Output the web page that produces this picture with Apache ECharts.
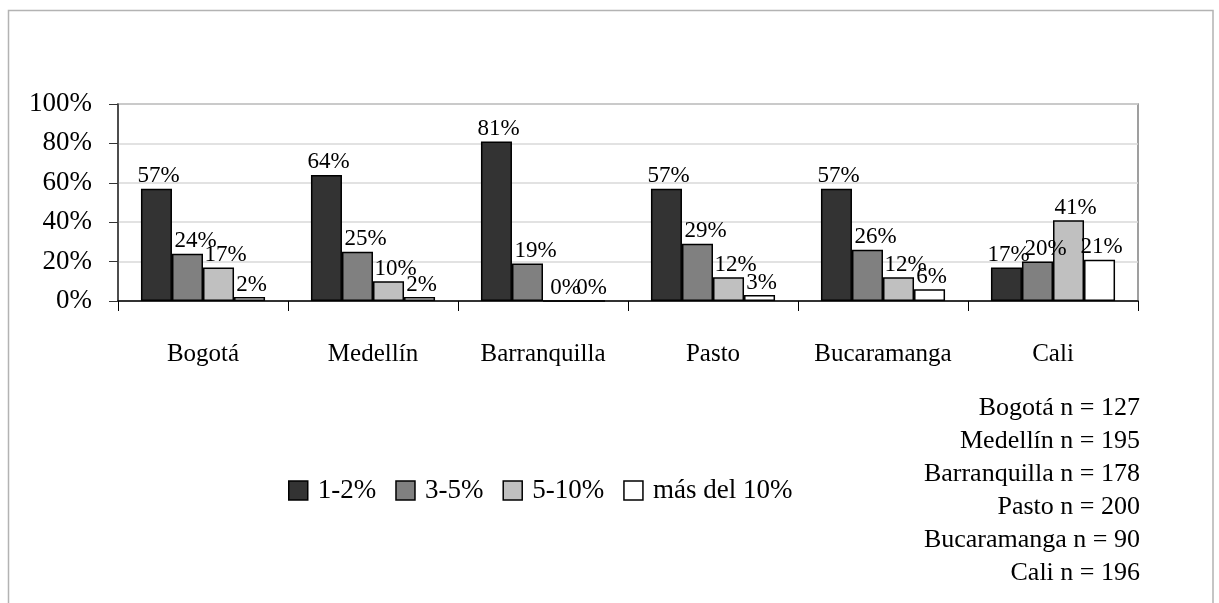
<!DOCTYPE html>
<html>
<head>
<meta charset="utf-8">
<script src="https://cdn.jsdelivr.net/npm/echarts@6/dist/echarts.min.js"></script>
<style>
  html, body { margin: 0; padding: 0; background: #ffffff; }
  #chart { width: 1219px; height: 603px; }
</style>
</head>
<body>
<div id="chart"></div>
<script>
// Cities surveyed
var cities = ['Bogotá', 'Medellín', 'Barranquilla', 'Pasto', 'Bucaramanga', 'Cali'];

// Share of respondents per range (%)
var range12 = [57, 64, 81, 57, 57, 17];
var range35 = [24, 25, 19, 29, 26, 20];
var range510 = [17, 10, 0, 12, 12, 41];
var rangeOver10 = [2, 2, 0, 3, 6, 21];

var seriesNames = ['1-2%', '3-5%', '5-10%', 'más del 10%'];

// Sample size per city
var sampleSizes = [127, 195, 178, 200, 90, 196];

var yTicks = [0, 20, 40, 60, 80, 100];

var fillColors = ['#333333', '#808080', '#c0c0c0', '#ffffff'];
// small horizontal nudge of the value labels so neighbours don't collide
var labelShift = [2, 8, 7, 2];
var FONT = '"Liberation Serif", "Times New Roman", serif';

var chart = echarts.init(document.getElementById('chart'), null, { renderer: 'canvas' });

var seriesValues = [range12, range35, range510, rangeOver10];

var series = seriesValues.map(function (vals, i) {
  return {
    name: seriesNames[i],
    type: 'bar',
    data: vals,
    barGap: '0%',
    barCategoryGap: '27%',
    itemStyle: {
      color: fillColors[i],
      borderColor: '#000000',
      borderWidth: 1.5
    },
    label: {
      show: true,
      position: 'top',
      distance: 1,
      offset: [labelShift[i], 0],
      formatter: '{c}%',
      color: '#000000',
      fontFamily: FONT,
      fontSize: 23
    }
  };
});

// Right-aligned sample-size notes
var nLines = cities.map(function (c, i) {
  return {
    type: 'text',
    right: 1219 - 1140,
    top: 395 + i * 33,
    style: {
      text: c + ' n = ' + sampleSizes[i],
      fontFamily: FONT,
      fontSize: 26,
      fill: '#000000',
      textAlign: 'right'
    }
  };
});

var option = {
  backgroundColor: '#ffffff',
  animation: false,
  grid: {
    left: 118,
    right: 1219 - 1138,
    top: 104,
    bottom: 603 - 301,
    show: true,
    borderColor: '#808080',
    borderWidth: 1.5,
    backgroundColor: 'transparent'
  },
  legend: {
    data: seriesNames,
    left: 283,
    top: 472,
    itemWidth: 19,
    itemHeight: 19,
    itemGap: 19,
    icon: 'rect',
    itemStyle: { borderColor: '#000000', borderWidth: 1.5 },
    textStyle: { fontFamily: FONT, fontSize: 27, color: '#000000', padding: [0, 0, 0, 5] }
  },
  xAxis: {
    type: 'category',
    data: cities,
    axisLine: { lineStyle: { color: '#000000', width: 1.5 } },
    axisTick: { show: true, alignWithLabel: false, interval: 0, length: 10, lineStyle: { color: '#000000', width: 1 } },
    axisLabel: { interval: 0, margin: 41, fontFamily: FONT, fontSize: 25, color: '#000000' },
    splitLine: { show: false }
  },
  yAxis: {
    type: 'value',
    min: yTicks[0],
    max: yTicks[yTicks.length - 1],
    interval: yTicks[1] - yTicks[0],
    axisLine: { show: true, lineStyle: { color: '#333333', width: 1.5 } },
    axisTick: { show: true, length: 9, lineStyle: { color: '#333333', width: 1 } },
    axisLabel: { margin: 26, formatter: '{value}%', fontFamily: FONT, fontSize: 27, color: '#000000' },
    splitLine: { show: true, lineStyle: { color: '#d9d9d9', width: 1.5 } }
  },
  series: series,
  graphic: [
    {
      type: 'rect',
      silent: true,
      z: -10,
      shape: { x: 8.5, y: 10.5, width: 1204.5, height: 640 },
      style: { fill: 'none', stroke: '#b3b3b3', lineWidth: 1.5 }
    }
  ].concat(nLines)
};

chart.setOption(option);
</script>
</body>
</html>
